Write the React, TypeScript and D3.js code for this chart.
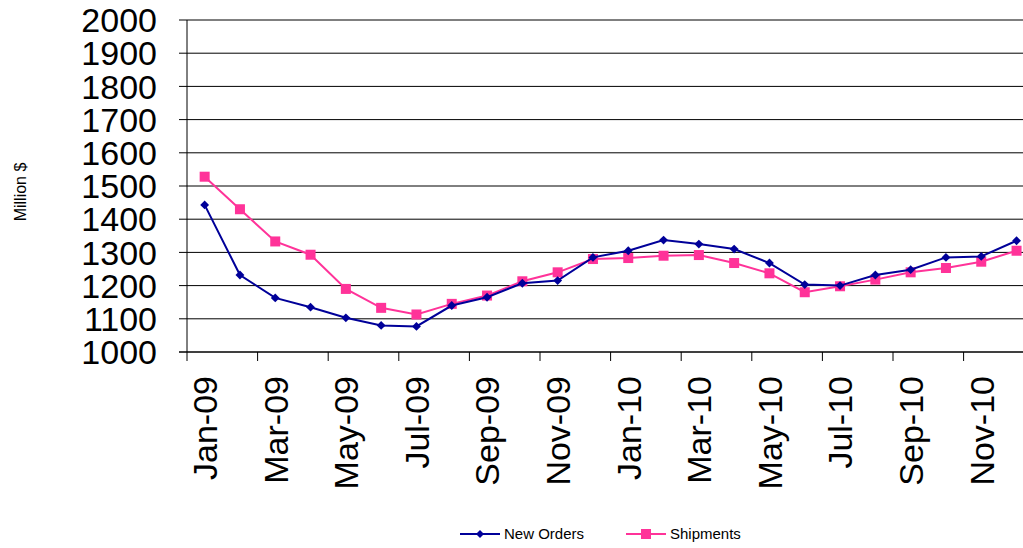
import * as d3 from "d3";
import React from "react";

const months = [
  "Jan-09", "Feb-09", "Mar-09", "Apr-09", "May-09", "Jun-09", "Jul-09", "Aug-09",
  "Sep-09", "Oct-09", "Nov-09", "Dec-09", "Jan-10", "Feb-10", "Mar-10", "Apr-10",
  "May-10", "Jun-10", "Jul-10", "Aug-10", "Sep-10", "Oct-10", "Nov-10", "Dec-10",
];
const newOrders = [
  1443, 1232, 1163, 1135, 1103, 1080, 1077, 1140, 1165, 1207, 1215, 1285,
  1305, 1337, 1325, 1310, 1268, 1203, 1200, 1232, 1248, 1285, 1288, 1335,
];
const shipments = [
  1528, 1430, 1333, 1293, 1190, 1133, 1113, 1145, 1170, 1213, 1240, 1280,
  1283, 1290, 1292, 1268, 1237, 1180, 1198, 1218, 1240, 1253, 1272, 1305,
];
const yTicks = d3.range(1000, 2001, 100);

const W = 1023, H = 548;
const left = 187, top = 20, bottom = 352;

export default function App() {
  const step = 35.3;
  const x = (i: number) => left + step / 2 + i * step;
  const y = d3.scaleLinear().domain([1000, 2000]).range([bottom, top]);
  const line = (vals: number[]) =>
    d3.line<number>().x((_, i) => x(i)).y((d) => y(d))(vals) || "";
  const font = "Arial, 'Liberation Sans', sans-serif";

  return (
    <svg width={W} height={H} style={{ position: "absolute", left: 0, top: 0 }} fontFamily={font}>
      <rect width={W} height={H} fill="white" />
      {yTicks.map((t) => (
        <g key={t}>
          <line x1={left} x2={W} y1={y(t)} y2={y(t)} stroke="#000" strokeWidth={1} />
          <line x1={left - 8} x2={left} y1={y(t)} y2={y(t)} stroke="#000" />
          <text x={left - 30} y={y(t)} dy="0.36em" textAnchor="end" fontSize={34}>{t}</text>
        </g>
      ))}
      <line x1={left} x2={left} y1={top} y2={bottom} stroke="#000" />
      <line x1={left - 8} x2={W} y1={bottom} y2={bottom} stroke="#000" />
      {months.map((m, i) =>
        i % 2 === 0 ? (
          <line key={"t" + m} x1={x(i) - step / 2} x2={x(i) - step / 2} y1={bottom} y2={bottom + 9} stroke="#000" />
        ) : null
      )}
      {months.map((m, i) =>
        i % 2 === 0 ? (
          <text key={m} transform={`translate(${x(i)},${bottom + 24}) rotate(-90)`}
            textAnchor="end" dy="0.36em" fontSize={34}>{m}</text>
        ) : null
      )}
      <text transform={`translate(26,192) rotate(-90)`} textAnchor="middle" fontSize={16}>Million $</text>

      <path d={line(shipments)} fill="none" stroke="#ff3399" strokeWidth={2} />
      {shipments.map((v, i) => (
        <rect key={"s" + i} x={x(i) - 5} y={y(v) - 5} width={10} height={10} fill="#ff3399" />
      ))}
      <path d={line(newOrders)} fill="none" stroke="#000099" strokeWidth={2} />
      {newOrders.map((v, i) => (
        <path key={"n" + i} d={d3.symbol(d3.symbolDiamond2, 50)() || ""}
          transform={`translate(${x(i)},${y(v)})`} fill="#000099" />
      ))}

      <g transform="translate(460,534)">
        <line x1={0} x2={40} stroke="#000099" strokeWidth={2} />
        <path d={d3.symbol(d3.symbolDiamond2, 40)() || ""} transform="translate(20,0)" fill="#000099" />
        <text x={44} dy="0.35em" fontSize={15}>New Orders</text>
      </g>
      <g transform="translate(626,534)">
        <line x1={0} x2={40} stroke="#ff3399" strokeWidth={2} />
        <rect x={15} y={-5} width={10} height={10} fill="#ff3399" />
        <text x={44} dy="0.35em" fontSize={15}>Shipments</text>
      </g>
    </svg>
  );
}
